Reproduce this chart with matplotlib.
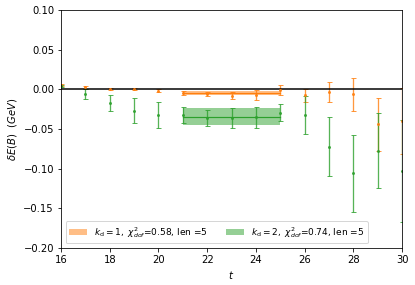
import matplotlib
matplotlib.use("Agg")
import matplotlib.pyplot as plt
import matplotlib.ticker as mticker
import numpy as np

# time slices
t = [16, 17, 18, 19, 20, 21, 22, 23, 24, 25, 26, 27, 28, 29, 30]

# k_d = 1 effective energy shift and errors
de_k1 = [0.0054, 0.0025, 0.0004, 0.0008, -0.0017, -0.0047, -0.0060, -0.0080, -0.0072, -0.0010,
         -0.0076, -0.0030, -0.0064, -0.0442, -0.0400]
err_k1 = [0.0015, 0.0017, 0.0012, 0.0013, 0.0015, 0.0025, 0.0030, 0.0040, 0.0060, 0.0063,
          0.0085, 0.0126, 0.0210, 0.0330, 0.0420]

# k_d = 2
de_k2 = [0.0040, -0.0060, -0.0177, -0.0270, -0.0324, -0.0324, -0.0358, -0.0366, -0.0353, -0.0295,
         -0.0324, -0.0724, -0.1060, -0.0774, -0.1030]
err_k2 = [0.0015, 0.0065, 0.0100, 0.0160, 0.0170, 0.0097, 0.0100, 0.0125, 0.0130, 0.0105,
          0.0240, 0.0370, 0.0490, 0.0470, 0.0640]

# plateau fits (t = 21 .. 25)
fit_t = [21, 25]
fit_k1, fit_err_k1 = -0.0049, 0.0027
fit_k2, fit_err_k2 = -0.0345, 0.0105

labels = [r'$k_{\rm d}=1,\ \chi^2_{dof}$=0.58, len =5',
          r'$k_{\rm d}=2,\ \chi^2_{dof}$=0.74, len =5']

fig = plt.figure(figsize=(415 / 72, 285 / 72), dpi=72)
ax = fig.add_axes([0.147, 0.13, 0.822, 0.835])

handles = []
for de, err, fit, ferr, color, label in [
        (de_k1, err_k1, fit_k1, fit_err_k1, 'C1', labels[0]),
        (de_k2, err_k2, fit_k2, fit_err_k2, 'C2', labels[1])]:
    ax.errorbar(t, de, yerr=err, fmt='.', color=color, markersize=4,
                elinewidth=1.3, capsize=2.5, capthick=1.0, alpha=0.8)
    ax.plot(fit_t, [fit, fit], color=color, lw=1.2)
    h = ax.fill_between(fit_t, fit - ferr, fit + ferr, color=color, alpha=0.5,
                        lw=0, label=label)
    handles.append(h)

ax.axhline(0, color='k', lw=1.5)

ax.set_xlim(16, 30)
ax.set_ylim(-0.2, 0.1)
ax.set_xticks(np.arange(16, 31, 2))
ax.set_yticks([-0.20, -0.15, -0.10, -0.05, 0.0, 0.05, 0.10])
ax.yaxis.set_major_formatter(
    mticker.FuncFormatter(lambda v, p: ('%.2f' % v).replace('-', '\u2212') if abs(v) > 1e-9 else '0.00'))

ax.set_xlabel(r'$t$')
ax.set_ylabel(r'$\delta E(B)\ \ (GeV)$')
ax.legend(handles=handles, loc='lower left', ncol=2, fontsize=9)

fig.savefig('out.png', dpi=72)
